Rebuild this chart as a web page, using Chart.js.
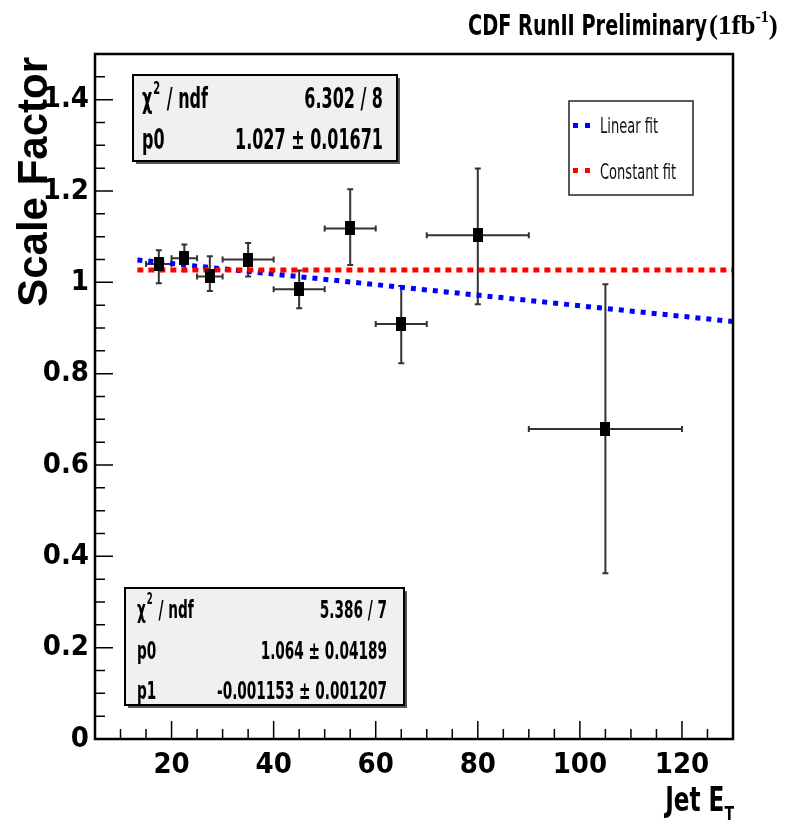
<!DOCTYPE html>
<html>
<head>
<meta charset="utf-8">
<script src="https://cdn.jsdelivr.net/npm/chart.js@4.4.1/dist/chart.umd.min.js"></script>
<style>
html,body{margin:0;padding:0;background:#fff;}
#c{display:block;}
</style>
</head>
<body>
<canvas id="c" width="812" height="830"></canvas>
<script>
// ---- data ----
const binCenters = [17.5, 22.5, 27.5, 35, 45, 55, 65, 80, 105];
const binLow     = [15, 20, 25, 30, 40, 50, 60, 70, 90];
const binHigh    = [20, 25, 30, 40, 50, 60, 70, 90, 120];
const scaleFactor = [1.040, 1.053, 1.013, 1.050, 0.985, 1.118, 0.909, 1.103, 0.679];
const sfErrLow    = [0.998, 1.024, 0.981, 1.013, 0.943, 1.038, 0.823, 0.952, 0.363];
const sfErrHigh   = [1.070, 1.083, 1.057, 1.086, 1.026, 1.204, 0.992, 1.249, 0.996];

const linearFitX = [13.3, 130];
const linearFitY = [1.049, 0.914];
const constFitX  = [13.3, 130];
const constFitY  = [1.027, 1.027];

const xTickValues = [20, 40, 60, 80, 100, 120];
const yTickValues = [0, 0.2, 0.4, 0.6, 0.8, 1.0, 1.2, 1.4];
const yTickLabels = ['0', '0.2', '0.4', '0.6', '0.8', '1', '1.2', '1.4'];

const topStats = [['χ', '2', ' / ndf', '6.302 / 8'], ['p0', '', '', '1.027 ± 0.01671']];
const bottomStats = [['χ', '2', ' / ndf', '5.386 / 7'], ['p0', '', '', '1.064 ± 0.04189'], ['p1', '', '', '-0.001153 ± 0.001207']];
const legendLabels = ['Linear fit', 'Constant fit'];

const NARROW = '"Liberation Sans Narrow", "DejaVu Sans Condensed", "Arial Narrow", sans-serif';
const SANS = '"Liberation Sans", Arial, sans-serif';
const SERIF = '"Liberation Serif", "Times New Roman", serif';

// marker: black filled rectangle
const marker = document.createElement('canvas');
marker.width = 10; marker.height = 14;
(function(){ const m = marker.getContext('2d'); m.fillStyle = '#000'; m.fillRect(0, 0, 10, 14); })();

const pointsData = binCenters.map((x, i) => ({x: x, y: scaleFactor[i]}));
const linData = linearFitX.map((x, i) => ({x: x, y: linearFitY[i]}));
const constData = constFitX.map((x, i) => ({x: x, y: constFitY[i]}));

// draw text horizontally condensed by factor sx, anchored at x with given alignment
function textSX(ctx, text, x, y, sx, align) {
  const w = ctx.measureText(text).width * sx;
  let left = x;
  if (align === 'right') left = x - w;
  else if (align === 'center') left = x - w / 2;
  ctx.save();
  ctx.textAlign = 'left';
  ctx.translate(left, y);
  ctx.scale(sx, 1);
  ctx.fillText(text, 0, 0);
  ctx.restore();
  return w;
}

const errorBarPlugin = {
  id: 'errorBars',
  beforeDatasetsDraw(chart) {
    const ctx = chart.ctx, xs = chart.scales.x, ys = chart.scales.y;
    ctx.save();
    ctx.strokeStyle = '#333';
    ctx.lineWidth = 2;
    const cap = 3;
    binCenters.forEach((xc, i) => {
      const px = xs.getPixelForValue(xc), py = ys.getPixelForValue(scaleFactor[i]);
      const xl = xs.getPixelForValue(binLow[i]), xh = xs.getPixelForValue(binHigh[i]);
      const yl = ys.getPixelForValue(sfErrLow[i]), yh = ys.getPixelForValue(sfErrHigh[i]);
      ctx.beginPath();
      ctx.moveTo(xl, py); ctx.lineTo(xh, py);
      ctx.moveTo(px, yl); ctx.lineTo(px, yh);
      ctx.moveTo(xl, py - cap); ctx.lineTo(xl, py + cap);
      ctx.moveTo(xh, py - cap); ctx.lineTo(xh, py + cap);
      ctx.moveTo(px - cap, yl); ctx.lineTo(px + cap, yl);
      ctx.moveTo(px - cap, yh); ctx.lineTo(px + cap, yh);
      ctx.stroke();
    });
    ctx.restore();
  }
};

function drawStatBox(ctx, x, y, w, h, rows, font, supFont, leftPad, rightPad, rowBaselines, widestTarget) {
  ctx.save();
  ctx.fillStyle = '#555';
  ctx.fillRect(x + 3, y + 3, w, h);
  ctx.fillStyle = '#f0f0f0';
  ctx.fillRect(x, y, w, h);
  ctx.strokeStyle = '#000';
  ctx.lineWidth = 2;
  ctx.strokeRect(x, y, w, h);
  ctx.fillStyle = '#000';
  ctx.font = font;
  let maxW = 0;
  rows.forEach(r => { maxW = Math.max(maxW, ctx.measureText(r[3]).width); });
  const sx = widestTarget / maxW;
  rows.forEach((r, i) => {
    const by = rowBaselines[i];
    ctx.font = font;
    let cx = x + leftPad;
    cx += textSX(ctx, r[0], cx, by, sx, 'left');
    if (r[1]) {
      ctx.font = supFont;
      cx += textSX(ctx, r[1], cx + 1, by - 14, sx, 'left') + 2;
      ctx.font = font;
    }
    if (r[2]) textSX(ctx, r[2], cx, by, sx, 'left');
    textSX(ctx, r[3], x + w - rightPad, by, sx, 'right');
  });
  ctx.restore();
}

const decorPlugin = {
  id: 'decor',
  afterDraw(chart) {
    const ctx = chart.ctx, a = chart.chartArea, xs = chart.scales.x, ys = chart.scales.y;
    ctx.save();
    // ticks inside frame
    ctx.strokeStyle = '#000';
    ctx.lineWidth = 1.5;
    ctx.beginPath();
    for (let v = 5; v <= 130.001; v += 5) {
      const px = xs.getPixelForValue(v);
      const len = (Math.abs(v % 20) < 1e-6) ? 18 : 10;
      ctx.moveTo(px, a.bottom); ctx.lineTo(px, a.bottom - len);
    }
    for (let k = 0; k <= 30; k++) {
      const v = k * 0.05;
      const py = ys.getPixelForValue(v);
      const len = (k % 4 === 0) ? 18 : 10;
      ctx.moveTo(a.left, py); ctx.lineTo(a.left + len, py);
    }
    ctx.stroke();
    // frame
    ctx.lineWidth = 2.5;
    ctx.strokeRect(a.left, a.top, a.right - a.left, a.bottom - a.top);

    // title
    ctx.fillStyle = '#000';
    ctx.textBaseline = 'alphabetic';
    ctx.font = 'bold 29px ' + NARROW;
    const t1 = 'CDF RunII Preliminary';
    const sxT = 239 / ctx.measureText(t1).width;
    textSX(ctx, t1, 468, 35, sxT, 'left');
    let tx = 709;
    ctx.font = 'bold 27px ' + SERIF;
    ctx.textAlign = 'left';
    ctx.fillText('(1fb', tx, 34);
    tx += ctx.measureText('(1fb').width;
    ctx.font = 'bold 16px ' + SERIF;
    ctx.fillText('-1', tx, 22);
    tx += ctx.measureText('-1').width;
    ctx.font = 'bold 27px ' + SERIF;
    ctx.fillText(')', tx, 34);

    // y axis title
    ctx.save();
    ctx.translate(47, 57);
    ctx.rotate(-Math.PI / 2);
    ctx.font = 'bold 42px ' + SANS;
    ctx.textAlign = 'right';
    ctx.fillText('Scale Factor', 0, 0);
    ctx.restore();

    // x axis title
    ctx.font = 'bold 33px ' + NARROW;
    const xt = 'Jet E';
    const sxX = 0.78;
    const xtw = ctx.measureText(xt).width * sxX;
    ctx.font = 'bold 20px ' + NARROW;
    const subw = ctx.measureText('T').width * sxX;
    const startX = 734 - xtw - subw;
    ctx.font = 'bold 33px ' + NARROW;
    textSX(ctx, xt, startX, 811, sxX, 'left');
    ctx.font = 'bold 20px ' + NARROW;
    textSX(ctx, 'T', startX + xtw, 820, sxX, 'left');

    // stat boxes
    drawStatBox(ctx, 133, 75, 264, 86, topStats, 'bold 29px ' + NARROW, 'bold 18px ' + NARROW, 9, 14, [108, 149], 148);
    drawStatBox(ctx, 125, 588, 279, 117, bottomStats, 'bold 24px ' + NARROW, 'bold 15px ' + NARROW, 12, 17, [618, 659, 699], 170);

    // legend
    ctx.fillStyle = '#fff';
    ctx.fillRect(569, 101, 124, 94);
    ctx.strokeStyle = '#222';
    ctx.lineWidth = 1.5;
    ctx.strokeRect(569, 101, 124, 94);
    ctx.fillStyle = '#0000ff';
    ctx.fillRect(573, 123, 5, 5); ctx.fillRect(585, 123, 5, 5);
    ctx.fillStyle = '#ff0000';
    ctx.fillRect(573, 168, 5, 5); ctx.fillRect(585, 168, 5, 5);
    ctx.fillStyle = '#111';
    ctx.font = '22px ' + NARROW;
    const sxL = 58 / ctx.measureText(legendLabels[0]).width;
    textSX(ctx, legendLabels[0], 600, 133, sxL, 'left');
    textSX(ctx, legendLabels[1], 600, 179, sxL, 'left');
    ctx.restore();
  }
};

new Chart(document.getElementById('c'), {
  type: 'scatter',
  data: {
    datasets: [
      { label: 'Data', data: pointsData, pointStyle: marker, pointRadius: 6, order: 0, showLine: false },
      { label: legendLabels[0], data: linData, showLine: true, borderColor: '#0000ff', borderWidth: 5, borderDash: [5, 6], pointRadius: 0, order: 2 },
      { label: legendLabels[1], data: constData, showLine: true, borderColor: '#ff0000', borderWidth: 5, borderDash: [6, 5], pointRadius: 0, order: 1 }
    ]
  },
  options: {
    responsive: false,
    devicePixelRatio: 1,
    animation: false,
    layout: { padding: { top: 54, right: 79, left: 0, bottom: 0 } },
    plugins: { legend: { display: false }, tooltip: { enabled: false }, title: { display: false } },
    scales: {
      x: {
        type: 'linear', min: 5, max: 130,
        afterBuildTicks: s => { s.ticks = xTickValues.map(v => ({ value: v })); },
        afterFit: s => { s.height = 91; },
        grid: { display: false, drawTicks: false },
        border: { display: false },
        ticks: { color: '#000', padding: 9, maxRotation: 0, font: { family: NARROW, size: 29, weight: 'bold' },
                 callback: v => String(v) }
      },
      y: {
        type: 'linear', min: 0, max: 1.5,
        afterBuildTicks: s => { s.ticks = yTickValues.map(v => ({ value: v })); },
        afterFit: s => { s.width = 95; },
        grid: { display: false, drawTicks: false },
        border: { display: false },
        ticks: { color: '#000', padding: 6, font: { family: NARROW, size: 29, weight: 'bold' },
                 callback: v => { const i = yTickValues.findIndex(t => Math.abs(t - v) < 1e-9); return i >= 0 ? yTickLabels[i] : ''; } }
      }
    }
  },
  plugins: [errorBarPlugin, decorPlugin]
});
</script>
</body>
</html>
